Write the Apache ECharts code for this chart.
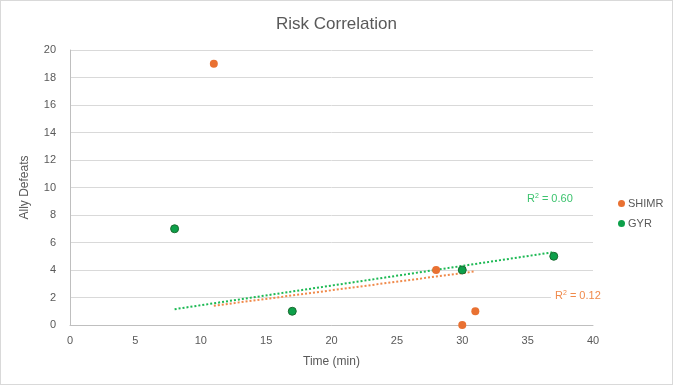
<!DOCTYPE html>
<html><head><meta charset="utf-8">
<script src="https://cdn.jsdelivr.net/npm/echarts@6/dist/echarts.min.js"></script>
<style>html,body{margin:0;padding:0;background:#fff}#c{width:671px;height:383px;border:1px solid #d9d9d9}</style>
</head><body><div id="c"></div>
<script>
const shimrX = [11, 28, 30, 31];
const shimrY = [19, 4, 0, 1];
const gyrX = [8, 17, 30, 37];
const gyrY = [7, 1, 4, 5];
const shimrTrendX = [11, 31];
const shimrTrendY = [1.4, 3.9];
const gyrTrendX = [8, 37];
const gyrTrendY = [1.15, 5.3];
const xTicks = [0, 5, 10, 15, 20, 25, 30, 35, 40];
const yTicks = [0, 2, 4, 6, 8, 10, 12, 14, 16, 18, 20];

const zip = (a, b) => a.map((v, i) => [v, b[i]]);
const FONT = 'Liberation Sans, Arial, sans-serif';
const chart = echarts.init(document.getElementById('c'));
chart.setOption({
  animation: false,
  textStyle: {fontFamily: FONT},
  title: {text: 'Risk Correlation', left: 'center', top: 10,
    textStyle: {fontSize: 17, fontWeight: 'normal', color: '#595959', fontFamily: FONT}},
  grid: {left: 69, right: 79, top: 49, bottom: 59},
  legend: {orient: 'vertical', left: 612, top: 192, itemGap: 9, itemWidth: 7, itemHeight: 7,
    data: [{name: 'SHIMR', icon: 'circle', itemStyle: {borderWidth: 0}}, {name: 'GYR', icon: 'circle', itemStyle: {borderWidth: 0}}],
    textStyle: {fontSize: 11, color: '#595959', padding: [0, 0, 0, -2]}},
  xAxis: {type: 'value', min: xTicks[0], max: xTicks[xTicks.length - 1], interval: 5,
    name: 'Time (min)', nameLocation: 'middle', nameGap: 31,
    nameTextStyle: {fontSize: 12, color: '#595959'},
    axisLine: {show: true, lineStyle: {color: '#bfbfbf'}}, axisTick: {show: false},
    axisLabel: {fontSize: 11, color: '#595959', margin: 10},
    splitLine: {show: false}},
  yAxis: {type: 'value', min: yTicks[0], max: yTicks[yTicks.length - 1], interval: 2,
    name: 'Ally Defeats', nameLocation: 'middle', nameGap: 39,
    nameTextStyle: {fontSize: 12, color: '#595959'},
    axisLine: {show: true, lineStyle: {color: '#bfbfbf'}}, axisTick: {show: false},
    axisLabel: {fontSize: 11, color: '#595959', margin: 14},
    splitLine: {show: true, lineStyle: {color: '#d9d9d9'}}},
  series: [
    {name: 'SHIMR trend', type: 'line', data: zip(shimrTrendX, shimrTrendY), showSymbol: false, z: 3,
      lineStyle: {type: [2, 2], width: 2, color: '#F08A4B'}},
    {name: 'GYR trend', type: 'line', data: zip(gyrTrendX, gyrTrendY), showSymbol: false, z: 3,
      lineStyle: {type: [2, 2], width: 2, color: '#1DB954'}},
    {name: 'SHIMR', type: 'scatter', data: zip(shimrX, shimrY), symbolSize: 8, z: 4,
      itemStyle: {color: '#E97132', opacity: 1}},
    {name: 'GYR', type: 'scatter', data: zip(gyrX, gyrY), symbolSize: 8, z: 4,
      itemStyle: {color: '#0DA04A', borderColor: '#1B6B30', borderWidth: 1, opacity: 1}}
  ],
  graphic: [
    {type: 'text', left: 522, top: 189, z: 10,
      style: {text: 'R{s|2} = 0.60', fill: '#3CC36E', font: '11px ' + FONT, backgroundColor: '#fff',
        padding: [3, 4], rich: {s: {fontSize: 7, verticalAlign: 'top', fill: '#3CC36E', padding: [0, 0, 5, 0]}}}},
    {type: 'text', left: 550, top: 286, z: 10,
      style: {text: 'R{s|2} = 0.12', fill: '#F08A4B', font: '11px ' + FONT, backgroundColor: '#fff',
        padding: [3, 4], rich: {s: {fontSize: 7, verticalAlign: 'top', fill: '#F08A4B', padding: [0, 0, 5, 0]}}}}
  ]
});
</script></body></html>
